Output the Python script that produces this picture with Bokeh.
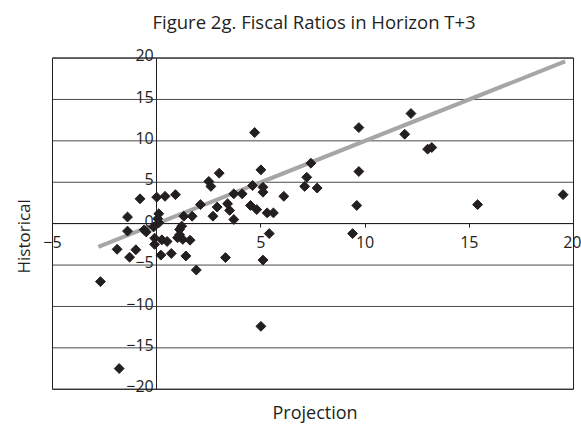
import math
from bokeh.plotting import figure
from bokeh.models import Title, FixedTicker, Range1d, LinearAxis
from bokeh.embed import file_html
from bokeh.resources import INLINE

title_text = "Figure 2g. Fiscal Ratios in Horizon T+3"
x_title = "Projection"
y_title = "Historical"

projection = [4.7, 9.7, 12.2, 11.9, 13.0, 13.2, 7.4, 7.2, 7.1, 7.7, 9.7, 9.6, 15.4, 19.5, 9.4,
              3.0, 2.5, 2.6, 5.0, 4.6, 5.1, 5.1, 3.7, 4.1, 6.1, 2.1, 2.9, 3.4, 3.5, 3.7, 2.7,
              4.5, 4.8, 5.3, 5.6, 1.7, 1.3, 5.4, 5.1, 5.0, 3.3, 1.9, 1.4, 0.7, 0.2, 1.6, 1.0,
              1.1, 1.25, 1.2, 1.1,
              -0.8, 0.0, 0.4, 0.9, -1.4, 0.1, 0.05, 0.1, -1.4, -0.6, -0.5, -0.1, 0.25, 0.5,
              -0.1, -0.15, -1.9, -1.0, -1.3, -2.7, -1.8]
historical = [11.0, 11.6, 13.3, 10.8, 9.0, 9.2, 7.3, 5.6, 4.5, 4.3, 6.3, 2.2, 2.3, 3.5, -1.2,
              6.1, 5.1, 4.5, 6.5, 4.6, 4.4, 3.8, 3.6, 3.6, 3.3, 2.3, 2.0, 2.4, 1.6, 0.5, 0.9,
              2.2, 1.7, 1.3, 1.3, 0.9, 0.9, -1.2, -4.4, -12.4, -4.1, -5.6, -3.9, -3.6, -3.8, -2.0, -1.7,
              -1.35, -1.9, -0.3, -0.7,
              3.0, 3.2, 3.3, 3.5, 0.8, 1.2, 0.6, 0.1, -0.9, -0.75, -1.0, -1.75, -1.95, -2.15,
              -2.5, -0.4, -3.1, -3.15, -4.05, -7.0, -17.5]

fit_x = [-2.8, 19.6]
fit_y = [-2.8, 19.6]

x_lim = [-5, 20]
y_lim = [-20, 20]
x_ticks = [-5, 0, 5, 10, 15, 20]
x_tick_labels = ["\u22125", "", "5", "10", "15", "20"]
y_ticks = [-20, -15, -10, -5, 0, 5, 10, 15, 20]
y_tick_labels = ["\u221220", "\u221215", "\u221210", "\u22125", "0", "5", "10", "15", "20"]

FONT = "Open Sans"
INK = "#231f20"

# frame is padded a little beyond the chart box so edge tick labels are not clipped
W, H = 581, 424
L, R, T, B = 38, 0, 38, 26
box_px = (52, 573, 56.7, 390.7)   # box left/right/top/bottom in pixels
sx = (box_px[1] - box_px[0]) / (x_lim[1] - x_lim[0])
sy = (box_px[3] - box_px[2]) / (y_lim[1] - y_lim[0])
xr = Range1d(x_lim[0] - (box_px[0] - L) / sx, x_lim[1] + (W - R - box_px[1]) / sx)
yr = Range1d(y_lim[0] - (H - B - box_px[3]) / sy, y_lim[1] + (box_px[2] - T) / sy)
lab_shift = 2.8 / sy   # y tick labels sit slightly above their gridlines

p = figure(width=W, height=H, output_backend="svg", toolbar_location=None,
           x_range=xr, y_range=yr,
           min_border_left=L, min_border_right=R, min_border_top=T, min_border_bottom=B)
p.extra_y_ranges = {"ylab": Range1d(yr.start - lab_shift, yr.end - lab_shift)}
p.outline_line_color = None
p.background_fill_color = "white"
p.border_fill_color = "white"
p.xgrid.visible = False
p.ygrid.visible = False

# horizontal gridlines and chart box
p.segment(x0=[x_lim[0]] * len(y_ticks), x1=[x_lim[1]] * len(y_ticks), y0=y_ticks, y1=y_ticks,
          line_color="#4a4a4a", line_width=1)
p.quad(left=[x_lim[0]], right=[x_lim[1]], bottom=[y_lim[0]], top=[y_lim[1]],
       fill_color=None, line_color=INK, line_width=1)

# x axis crossing at y = 0
xa = p.xaxis[0]
xa.fixed_location = 0
xa.bounds = tuple(x_lim)
xa.axis_line_color = INK
xa.major_tick_line_color = INK
xa.minor_tick_line_color = None
xa.major_tick_in = 0
xa.major_tick_out = 4
xa.ticker = FixedTicker(ticks=x_ticks)
xa.major_label_overrides = dict(zip(x_ticks, x_tick_labels))
xa.major_label_standoff = 8
xa.major_label_text_font = FONT
xa.major_label_text_font_size = "16px"
xa.major_label_text_color = INK

# y axis line crossing at x = 0
ya = p.yaxis[0]
ya.fixed_location = 0
ya.bounds = tuple(y_lim)
ya.axis_line_color = INK
ya.ticker = FixedTicker(ticks=[])
ya.minor_tick_line_color = None

# y tick labels
yl = LinearAxis(y_range_name="ylab", fixed_location=0,
                ticker=FixedTicker(ticks=y_ticks),
                major_label_overrides=dict(zip(y_ticks, y_tick_labels)),
                axis_line_color=None, major_tick_line_color=None, minor_tick_line_color=None,
                major_tick_in=0, major_tick_out=2, major_label_standoff=1,
                major_label_text_font=FONT, major_label_text_font_size="16px",
                major_label_text_color=INK)
p.add_layout(yl, "left")

p.line(fit_x, fit_y, line_color="#a6a6a6", line_width=4)
p.scatter(projection, historical, marker="square", angle=math.pi / 4, size=7,
          fill_color=INK, line_color=INK)

p.title.text = title_text
p.title.align = "left"
p.title.offset = 114
p.title.standoff = 12
p.title.text_font = FONT
p.title.text_font_size = "18.5px"
p.title.text_font_style = "normal"
p.title.text_color = INK

p.add_layout(Title(text=x_title, align="left", offset=234, standoff=2, text_font=FONT,
                   text_font_size="18px", text_font_style="normal", text_color=INK), "below")
p.add_layout(Title(text=y_title, align="left", offset=123, standoff=7, text_font=FONT,
                   text_font_size="17px", text_font_style="normal", text_color=INK), "left")

open("out.html", "w").write(file_html(p, INLINE))
